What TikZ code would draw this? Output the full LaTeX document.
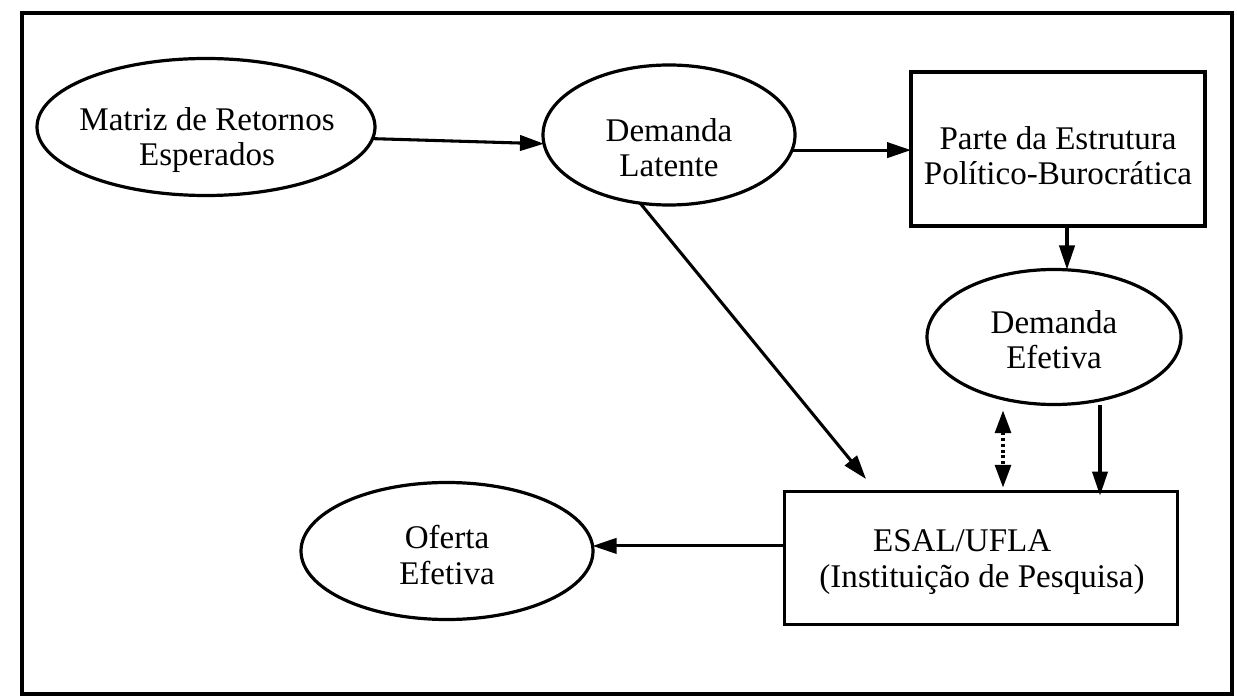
\documentclass[tikz,border=0pt]{standalone}
\usepackage{fontspec}
\setmainfont{Liberation Serif}
\usetikzlibrary{arrows.meta,shapes.geometric}
\begin{document}
\begin{tikzpicture}[x=0.75pt,y=-0.75pt,
  txt/.style={font=\fontsize{24.8}{26.5}\selectfont,align=center,inner sep=0pt},
  ell/.style={draw,line width=2.4pt,ellipse,inner sep=0pt,outer sep=0pt},
  boxnode/.style={draw,line width=2.4pt,rectangle,inner sep=0pt,outer sep=0pt},
  conn/.style={line width=2.3pt,-{Triangle[length=18pt,width=11.5pt]}},
  dconn/.style={line width=2.3pt,dotted,{Triangle[length=17pt,width=12pt]}-{Triangle[length=17pt,width=12pt]}}]
\useasboundingbox (0,0) rectangle (1237,698);
\draw[line width=3.3pt] (22,13) rectangle (1232,694);
% shapes
\node[ell,minimum width=338*0.75pt,minimum height=137*0.75pt] (mre) at (206,127) {};
\node[ell,minimum width=252*0.75pt,minimum height=140*0.75pt] (dl) at (669,135) {};
\node[boxnode,minimum width=294*0.75pt,minimum height=154*0.75pt] (pe) at (1058,149) {};
\node[ell,minimum width=254*0.75pt,minimum height=135*0.75pt] (de) at (1054,337) {};
\node[boxnode,minimum width=393*0.75pt,minimum height=133*0.75pt] (esal) at (981,558) {};
\node[ell,minimum width=292*0.75pt,minimum height=137*0.75pt] (of) at (447,551) {};
% texts
\node[txt] (mret) at (207,140) {Matriz de Retornos\\Esperados};
\node[txt] (dlt) at (669,148) {Demanda\\Latente};
\node[txt] (pet) at (1058,156) {Parte da Estrutura\\Político-Burocrática};
\node[txt] (det) at (1054,340) {Demanda\\Efetiva};
\node[txt] (esalt) at (982,562) {ESAL/UFLA\hspace*{1.2em}\\(Instituição de Pesquisa)};
\node[txt] (oft) at (447,555) {Oferta\\Efetiva};
% connectors
\coordinate (diagend) at (866,479);
\draw[conn] (mre.-4) -- (dl.-176);
\draw[conn] (dl.-7) -- (dl.-7 -| pe.west);
\draw[conn] (dl.247) -- (diagend);
\draw[conn] (pe.south -| 1067,0) -- (de.north -| 1067,0);
\draw[dconn] (de.south -| 1003,0) ++(0,6) -- ([yshift=4*0.75pt]esal.north -| 1003,0);
\draw[conn] (de.south -| 1100,0) -- ([yshift=-4*0.75pt]esal.north -| 1100,0);
\draw[conn] (esal.west |- of.2) -- (of.2);
\end{tikzpicture}
\end{document}
